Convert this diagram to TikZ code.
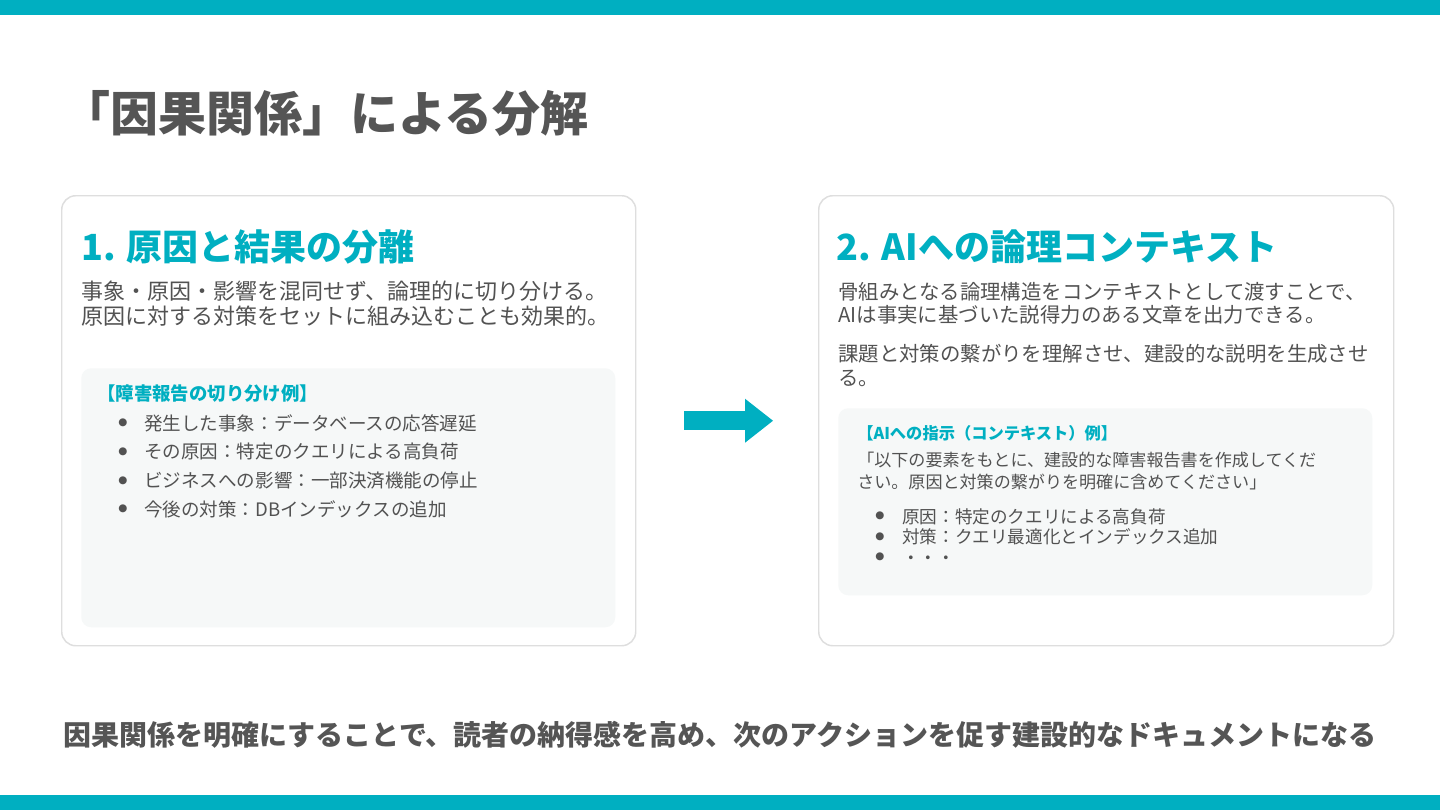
\documentclass[tikz,border=0pt]{standalone}
\usepackage{fontspec}
\setmainfont{Noto Sans CJK JP}
\newfontfamily\symfont{DejaVu Sans}
\usetikzlibrary{arrows.meta, positioning}
\definecolor{tealmain}{RGB}{0, 175, 193}
\definecolor{inkgray}{RGB}{85, 85, 85}
\definecolor{bodygray}{RGB}{82, 82, 82}
\definecolor{cardline}{RGB}{222, 222, 222}
\definecolor{boxfill}{RGB}{246, 248, 248}
\tikzset{
  cardbox/.style={draw=cardline, line width=1.1pt, fill=white, rounded corners=10.5pt, anchor=north west, minimum width=430.5pt, minimum height=337.5pt, inner sep=0pt},
  samplebox/.style={fill=boxfill, rounded corners=7.5pt, anchor=north west, minimum width=400.5pt, inner sep=0pt},
  txt/.style={anchor=base west, inner sep=0pt, text=bodygray},
  titletext/.style={txt, text=inkgray, font=\bfseries\fontsize{36}{43}\selectfont},
  headtext/.style={txt, text=tealmain, font=\bfseries\fontsize{27}{32}\selectfont},
  desctext/.style={txt, font=\fontsize{#1}{20}\selectfont},
  labeltext/.style={txt, text=tealmain, font=\bfseries\fontsize{#1}{15}\selectfont},
  itemtext/.style={txt, font=\fontsize{#1}{16}\selectfont},
  bulletdot/.style={inner sep=0pt, text=bodygray, font=\symfont\fontsize{7.8}{8}\selectfont},
  foottext/.style={anchor=base, inner sep=0pt, text=inkgray, font=\bfseries\fontsize{21}{25}\selectfont},
  flowarrow/.style={tealmain, line width=14.25pt, shorten <=36pt, shorten >=33.75pt, -{Triangle[length=21pt, width=33pt, line width=0pt]}},
}
\begin{document}
\begin{tikzpicture}[x=0.75pt, y=-0.75pt]
  \useasboundingbox (0,0) rectangle (1440,810);
  \fill[tealmain] (0,0) rectangle (1440,15);
  \fill[tealmain] (0,795) rectangle (1440,810);

  % title
  \node[titletext] (title) at (62,131.5) {「因果関係」による分解};

  % cards
  \node[cardbox] (lcard) at (61,195) {};
  \node[cardbox, minimum width=431.25pt] (rcard) at (818,195) {};
  \draw[flowarrow] (lcard.east) -- (rcard.west);

  % left card
  \node[headtext] (lhead) at (81,260.5) {1. 原因と結果の分離};
  \node[desctext=16.5] (ld1) at (81,299) {事象・原因・影響を混同せず、論理的に切り分ける。};
  \node[desctext=16.5] (ld2) at (81,324) {原因に対する対策をセットに組み込むことも効果的。};
  \node[samplebox, minimum height=194.25pt] (lbox) at (81,368) {};
  \node[labeltext=13.8] (llabel) at (97,400) {【障害報告の切り分け例】};
  \foreach \txt [count=\k] in {発生した事象：データベースの応答遅延, その原因：特定のクエリによる高負荷, ビジネスへの影響：一部決済機能の停止, 今後の対策：DBインデックスの追加}{
    \node[bulletdot] (ldot\k) at (123,{423+28.7*(\k-1)}) {●};
    \node[itemtext=13.9] (litem\k) at (144,{430+28.7*(\k-1)}) {\txt};
  }

  % right card
  \node[headtext] (rhead) at (836,260.5) {2. AIへの論理コンテキスト};
  \node[desctext=15.3] (rd1) at (838,299) {骨組みとなる論理構造をコンテキストとして渡すことで、};
  \node[desctext=15.3] (rd2) at (838,322.5) {AIは事実に基づいた説得力のある文章を出力できる。};
  \node[desctext=15.3] (rd3) at (838,361.5) {課題と対策の繋がりを理解させ、建設的な説明を生成させ};
  \node[desctext=15.3] (rd4) at (838,385.5) {る。};
  \node[samplebox, minimum height=140.25pt] (rbox) at (838,408) {};
  \node[labeltext=12.2] (rlabel) at (857,439) {【AIへの指示（コンテキスト）例】};
  \node[itemtext=12.8] (rq1) at (857,466) {「以下の要素をもとに、建設的な障害報告書を作成してくだ};
  \node[itemtext=12.8] (rq2) at (857,488.5) {さい。原因と対策の繋がりを明確に含めてください」};
  \foreach \txt [count=\k] in {原因：特定のクエリによる高負荷, 対策：クエリ最適化とインデックス追加, ・・・}{
    \node[bulletdot] (rdot\k) at (880,{516+20.5*(\k-1)}) {●};
    \node[itemtext=13.2] (ritem\k) at (902,{523+20.5*(\k-1)}) {\txt};
  }

  % footer
  \node[foottext] (foot) at (720,745.6) {因果関係を明確にすることで、読者の納得感を高め、次のアクションを促す建設的なドキュメントになる};
\end{tikzpicture}
\end{document}
